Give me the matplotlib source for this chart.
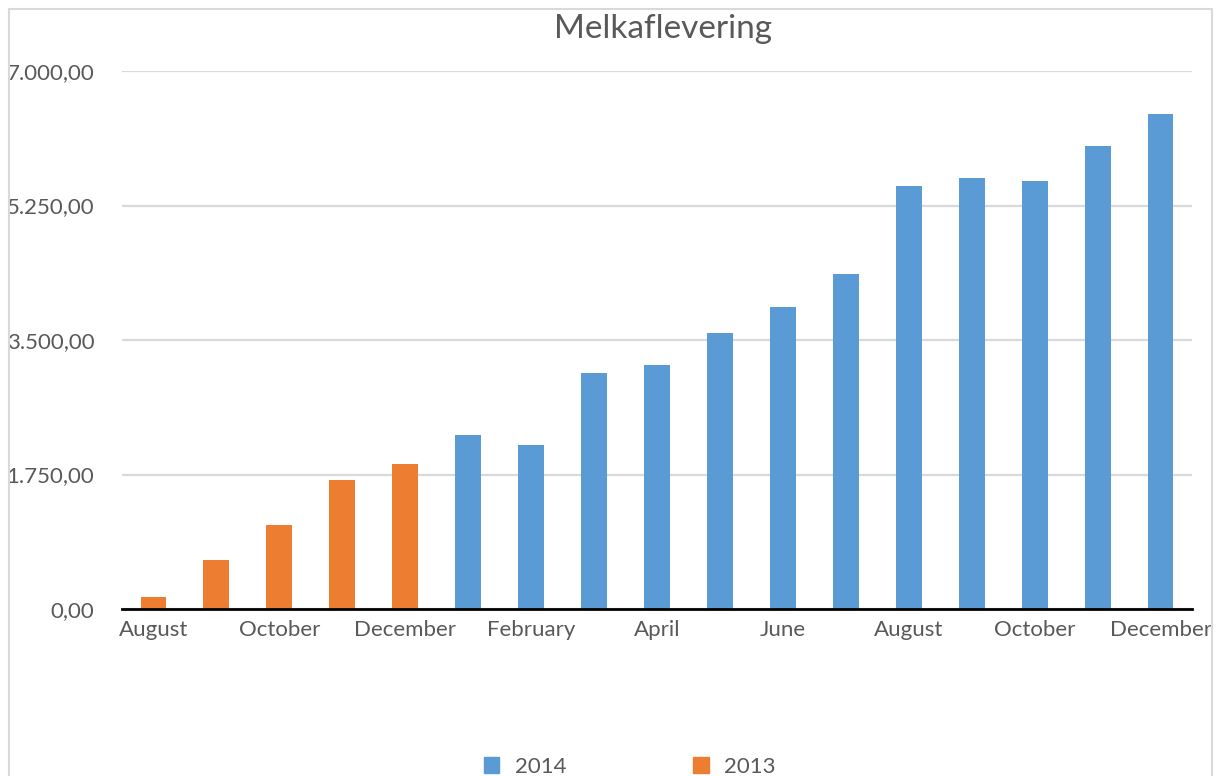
import matplotlib
matplotlib.use("Agg")
import matplotlib.pyplot as plt
from matplotlib.patches import Rectangle, Patch
from matplotlib.ticker import FuncFormatter

# data (Aug 2013 .. Dec 2014)
months = ["August", "September", "October", "November", "December",
          "January", "February", "March", "April", "May", "June", "July",
          "August", "September", "October", "November", "December"]
values_2013 = [156, 637, 1093, 1678, 1886]
values_2014 = [2264, 2134, 3070, 3174, 3591, 3929, 4358,
               5503, 5607, 5568, 6024, 6440]
yticks = [0, 1750, 3500, 5250, 7000]

blue = "#5B9BD5"
orange = "#ED7D31"
grey = "#595959"

plt.rcParams['font.family'] = ['Lato', 'DejaVu Sans']

fig = plt.figure(figsize=(12.16, 7.76), dpi=100)
ax = fig.add_axes([0.1003, 0.2152, 0.88, 0.6933])

x13 = list(range(len(values_2013)))
x14 = list(range(len(values_2013), len(months)))
ax.bar(x13, values_2013, width=0.41, color=orange, zorder=3)
ax.bar(x14, values_2014, width=0.41, color=blue, zorder=3)

ax.set_xlim(-0.5, len(months) - 0.5)
ax.set_ylim(0, 7000)
ax.set_yticks(yticks)


def nor_fmt(v, pos):
    s = "{:,.2f}".format(v)
    return s.replace(",", "X").replace(".", ",").replace("X", ".")


ax.yaxis.set_major_formatter(FuncFormatter(nor_fmt))
ax.set_xticks(range(0, len(months), 2))
ax.set_xticklabels(months[::2])
ax.tick_params(axis='both', length=0, labelsize=16, labelcolor=grey)
ax.tick_params(axis='y', pad=20)
ax.tick_params(axis='x', pad=8)

ax.grid(axis='y', color="#d9d9d9", linewidth=1.6, zorder=0)
for s in ["top", "right", "left"]:
    ax.spines[s].set_visible(False)
ax.spines["bottom"].set_color("black")
ax.spines["bottom"].set_linewidth(2)
ax.spines["bottom"].set_zorder(4)

fig.text(0.5455, 0.963, "Melkaflevering", ha="center", va="center",
         fontsize=24, color=grey)

handles = [Patch(color=blue, label="2014"), Patch(color=orange, label="2013")]
fig.legend(handles=handles, loc="center", bbox_to_anchor=(0.518, 0.012),
           ncol=2, frameon=False, fontsize=16, labelcolor=grey,
           handlelength=0.7, handleheight=0.7, columnspacing=5.7,
           handletextpad=0.7)

# outer chart border
fig.patches.append(Rectangle((0.0074, -0.05), 0.9893, 1.0384,
                             transform=fig.transFigure, fill=False,
                             edgecolor="#d9d9d9", linewidth=1.5))

fig.savefig("out.png", dpi=100)
